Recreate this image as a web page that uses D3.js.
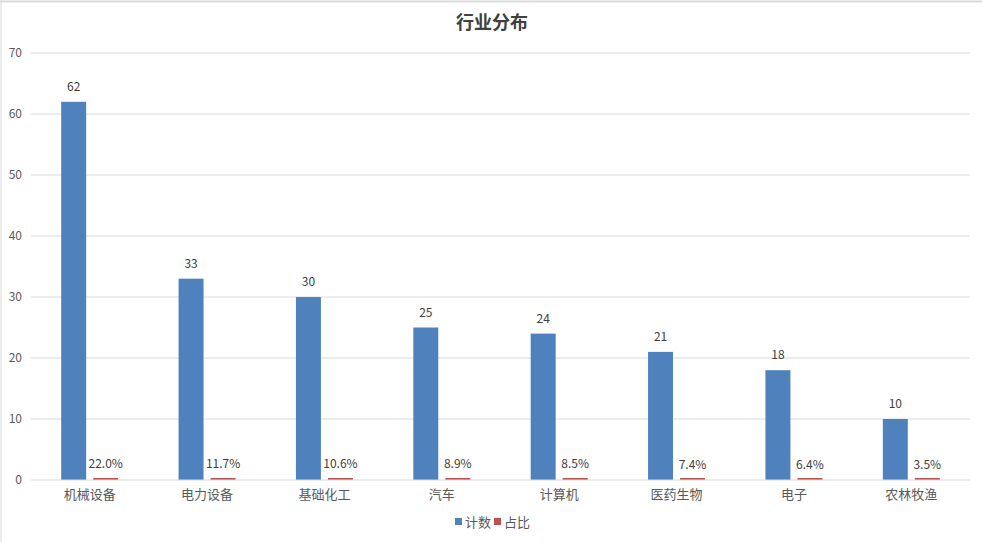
<!DOCTYPE html>
<html>
<head>
<meta charset="utf-8">
<script src="https://cdn.jsdelivr.net/npm/d3@7"></script>
<style>
  body { margin: 0; background: #fff; }
  text { font-family: "Noto Sans CJK SC", "Noto Sans", sans-serif; }
</style>
</head>
<body>
<script>
// data
var categories = ["机械设备", "电力设备", "基础化工", "汽车", "计算机", "医药生物", "电子", "农林牧渔"];
var counts = [62, 33, 30, 25, 24, 21, 18, 10];
var shares = [0.220, 0.117, 0.106, 0.089, 0.085, 0.074, 0.064, 0.035];
var seriesNames = ["计数", "占比"];
var yTicks = [0, 10, 20, 30, 40, 50, 60, 70];

var W = 982, H = 542;
var margin = {top: 53, right: 12, bottom: 62, left: 31};
var width = W - margin.left - margin.right;
var height = H - margin.top - margin.bottom;
var colors = ["#4F81BD", "#C0504D"];

var svg = d3.select("body").append("svg")
    .attr("width", W)
    .attr("height", H);

// sheet border lines
svg.append("line").attr("x1", 0).attr("x2", W).attr("y1", 1.5).attr("y2", 1.5)
    .style("stroke", "#d9d9d9").style("stroke-width", 2);
svg.append("line").attr("x1", 1).attr("x2", 1).attr("y1", 0).attr("y2", H)
    .style("stroke", "#d9d9d9").style("stroke-width", 1);

var g = svg.append("g")
    .attr("transform", "translate(" + margin.left + "," + margin.top + ")");

var x0 = d3.scaleBand().domain(categories).range([0, width]);
var groupW = 57;
var off = (x0.bandwidth() - groupW) / 2;
var x1 = d3.scaleBand().domain(seriesNames).range([off, off + groupW]).paddingInner(0.22);
var y = d3.scaleLinear().domain([0, 70]).range([height, 0]);

// gridlines
g.selectAll(".grid").data(yTicks.filter(function(d) { return d > 0; }))
    .enter().append("line")
    .attr("x1", 0).attr("x2", width)
    .attr("y1", function(d) { return y(d); })
    .attr("y2", function(d) { return y(d); })
    .style("stroke", "#d9d9d9").style("stroke-width", 1);

// y labels
g.selectAll(".ylab").data(yTicks)
    .enter().append("text")
    .attr("x", -9)
    .attr("y", function(d) { return y(d); })
    .attr("dy", "0.35em")
    .attr("text-anchor", "end")
    .style("font-size", "12px")
    .style("fill", "#595959")
    .text(function(d) { return d; });

var rows = categories.map(function(c, i) {
    return {cat: c, vals: [{s: seriesNames[0], v: counts[i], label: counts[i]},
                           {s: seriesNames[1], v: shares[i], label: (shares[i] * 100).toFixed(1) + "%"}]};
});

var grp = g.selectAll(".grp").data(rows).enter().append("g")
    .attr("transform", function(d) { return "translate(" + x0(d.cat) + ",0)"; });

grp.selectAll("rect").data(function(d) { return d.vals; })
    .enter().append("rect")
    .attr("x", function(d) { return x1(d.s); })
    .attr("width", x1.bandwidth())
    .attr("y", function(d) { return Math.min(y(d.v), height - 2); })
    .attr("height", function(d) { return Math.max(2, height - y(d.v)); })
    .style("fill", function(d, i) { return colors[i]; });

grp.selectAll(".lbl").data(function(d) { return d.vals; })
    .enter().append("text")
    .attr("x", function(d) { return x1(d.s) + x1.bandwidth() / 2; })
    .attr("y", function(d) { return y(d.v) - 11; })
    .attr("text-anchor", "middle")
    .style("font-size", "12px")
    .style("fill", "#404040")
    .text(function(d) { return d.label; });

// baseline
g.append("line").attr("x1", 0).attr("x2", width)
    .attr("y1", height).attr("y2", height)
    .style("stroke", "#d9d9d9").style("stroke-width", 1);

// x labels
g.selectAll(".xlab").data(categories)
    .enter().append("text")
    .attr("x", function(d) { return x0(d) + x0.bandwidth() / 2; })
    .attr("y", height + 14)
    .attr("dy", "0.35em")
    .attr("text-anchor", "middle")
    .style("font-size", "13px")
    .style("fill", "#595959")
    .text(function(d) { return d; });

// title
svg.append("text")
    .attr("x", 492)
    .attr("y", 29)
    .attr("text-anchor", "middle")
    .style("font-size", "18px")
    .style("font-weight", "bold")
    .style("fill", "#404040")
    .text("行业分布");

// legend
var legend = svg.selectAll(".legend").data(seriesNames)
    .enter().append("g")
    .attr("transform", function(d, i) { return "translate(" + (455 + i * 39) + ",518)"; });
legend.append("rect").attr("width", 7).attr("height", 7)
    .style("fill", function(d, i) { return colors[i]; });
legend.append("text").attr("x", 10).attr("y", 4).attr("dy", "0.35em")
    .style("font-size", "13px").style("fill", "#595959")
    .text(function(d) { return d; });
</script>
</body>
</html>
